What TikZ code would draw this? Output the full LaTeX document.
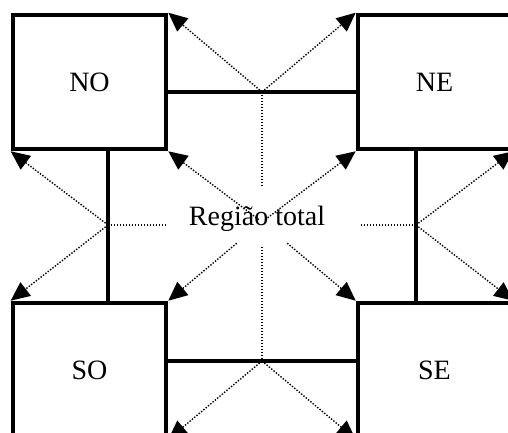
\documentclass[tikz,border=0pt]{standalone}
\usepackage{fontspec}
\setmainfont{Liberation Serif}
\usetikzlibrary{arrows.meta}
\begin{document}
\begin{tikzpicture}[x=1pt,y=-1pt,
  quad/.style={draw,line width=4.6pt,minimum width=153pt,minimum height=134pt,
    inner sep=0pt,font=\fontsize{28}{30}\selectfont},
  link/.style={line width=4.6pt},
  ray/.style={line width=1.4pt,dash pattern=on 1.4pt off 1.6pt},
  tip/.style={ray,-{Triangle[length=19pt,width=17pt]}}]
\useasboundingbox (0,0) rectangle (508,433);
\clip (0,0) rectangle (508,433);

% four quadrant boxes
\node[quad] (NO) at (89.5,82) {NO};
\node[quad] (NE) at (434.5,82) {NE};
\node[quad] (SO) at (89.5,370) {SO};
\node[quad] (SE) at (434.5,370) {SE};

% centre label
\node[anchor=base,inner sep=0pt,font=\fontsize{28}{30}\selectfont] (tot) at (257,225) {Região total};

% split points on the four separating lines
\coordinate (t) at (262,92);
\coordinate (b) at (262,361);
\coordinate (l) at (108,225);
\coordinate (r) at (416,225);
\coordinate (c) at (262,222);

% thick separating lines between the boxes
\draw[link] (t -| NO.east) -- (t -| NE.west);
\draw[link] (b -| SO.east) -- (b -| SE.west);
\draw[link] (l |- NO.south) -- (l |- SO.north);
\draw[link] (r |- NE.south) -- (r |- SE.north);

% dotted guides to the centre
\coordinate (tv) at (262,187);
\coordinate (bv) at (262,247);
\coordinate (lh) at (166,225);
\coordinate (rh) at (361,225);
\draw[ray] (t) -- (tv);
\draw[ray] (bv) -- (b);
\draw[ray] (l) -- (lh);
\draw[ray] (rh) -- (r);

% arrows from each split point to the box corners
\draw[tip] (t) -- (NO.north east);
\draw[tip] (t) -- (NE.north west);
\draw[tip] (b) -- (SO.south east);
\draw[tip] (b) -- (SE.south west);
\draw[tip] (l) -- (NO.south west);
\draw[tip] (l) -- (SO.north west);
\draw[tip] (r) -- (NE.south east);
\draw[tip] (r) -- (SE.north east);

% arrows from the centre to the inner corners
\draw[tip,shorten <=4pt] (c) -- (NO.south east);
\draw[tip,shorten <=4pt] (c) -- (NE.south west);
\draw[tip,shorten <=33pt] (c) -- (SO.north east);
\draw[tip,shorten <=33pt] (c) -- (SE.north west);
\end{tikzpicture}
\end{document}
